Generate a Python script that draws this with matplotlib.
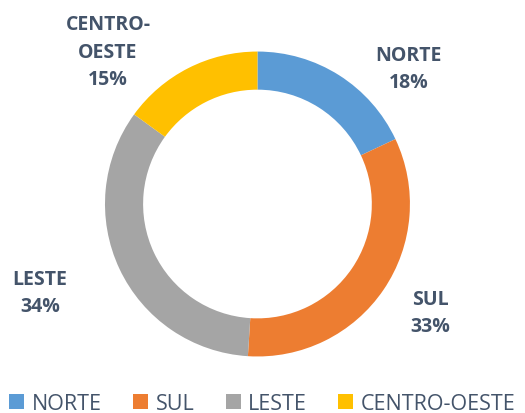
import matplotlib.pyplot as plt
from matplotlib.patches import Patch

regioes = ['NORTE', 'SUL', 'LESTE', 'CENTRO-OESTE']
percentuais = [18, 33, 34, 15]
cores = ['#5B9BD5', '#ED7D31', '#A5A5A5', '#FFC000']
rotulos = ['NORTE\n18%', 'SUL\n33%', 'LESTE\n34%', 'CENTRO-\nOESTE\n15%']
posicoes = [(0.99, 0.89), (1.131, -0.71), (-1.426, -0.58), (-0.98, 1.0)]

plt.rcParams['font.family'] = ['Open Sans', 'DejaVu Sans']

fig = plt.figure(figsize=(5.25, 4.14), dpi=100)
ax = fig.add_axes([0.1419, 0.0628, 0.697, 0.884])

ax.pie(percentuais, colors=cores, startangle=90, counterclock=False,
       radius=1, wedgeprops=dict(width=0.25, edgecolor='none'))

for texto, (x, y) in zip(rotulos, posicoes):
	ax.text(x, y, texto, ha='center', va='center', fontsize=14,
	        fontweight='bold', color='#44546A', linespacing=1.5)

ax.set_xlim(-1.2, 1.2)
ax.set_ylim(-1.2, 1.2)
ax.set_aspect('equal')
ax.axis('off')

handles = [Patch(facecolor=c, edgecolor='none') for c in cores]
fig.legend(handles, regioes, loc='lower center', bbox_to_anchor=(0.5, -0.05),
           ncol=4, frameon=False, fontsize=15.5, handlelength=0.7, handleheight=0.7,
           handletextpad=0.35, columnspacing=1.45, labelcolor='#44546A')

fig.savefig('out.png', dpi=100)
